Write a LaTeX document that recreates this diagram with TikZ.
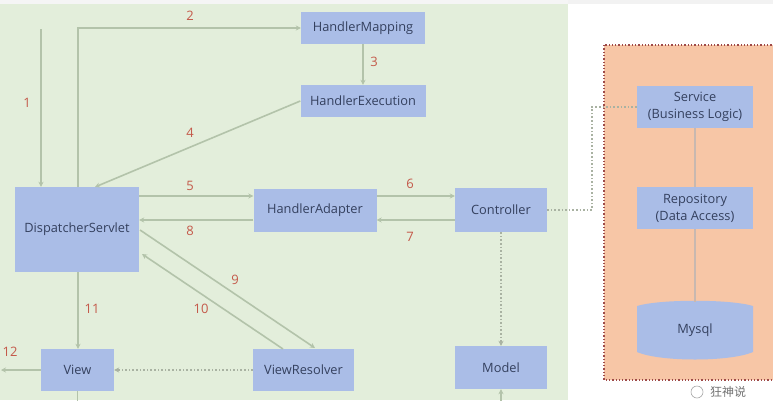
\documentclass[tikz,border=0pt]{standalone}
\usepackage{fontspec}
\setmainfont{Open Sans}
\newfontfamily\cjkfont{Noto Sans CJK SC}
\usetikzlibrary{arrows.meta,shapes.geometric}

\definecolor{bggreen}{HTML}{E3EEDB}
\definecolor{boxblue}{HTML}{AABDE7}
\definecolor{boxtext}{HTML}{34405E}
\definecolor{numred}{HTML}{C4594A}
\definecolor{flowline}{HTML}{B3C3AA}
\definecolor{dotline}{HTML}{A9B2A2}
\definecolor{panelorange}{HTML}{F7C6A6}
\definecolor{paneledge}{HTML}{9E4A48}
\definecolor{linkline}{HTML}{C8B8B0}

\tikzset{
  comp/.style={fill=boxblue, text=boxtext, inner sep=0pt, align=center,
    font=\fontsize{12.8}{17}\selectfont},
  flow/.style={draw=flowline, line width=1.6pt, -{Stealth[length=5pt,width=5pt]}},
  plainflow/.style={draw=flowline, line width=1.6pt},
  dotflow/.style={draw=dotline, line width=1.6pt, dotted},
  num/.style={text=numred, font=\fontsize{13}{15}\selectfont, inner sep=0pt},
}

\begin{document}
\begin{tikzpicture}[x=1pt,y=-1pt]
\useasboundingbox (0,0) rectangle (773,400);
\clip (0,0) rectangle (773,400);

% backgrounds
\fill[white] (0,0) rectangle (773,400);
\fill[bggreen] (0,4) rectangle (568,400);
\fill[black!5] (568,0) rectangle (773,4);
\fill[black!4] (0,0) rectangle (568,4);

% service layer panel
\path[fill=panelorange, draw=paneledge, line width=1.3pt, dotted]
  (604,45) rectangle (790,380);

% components
\node[comp, minimum width=124pt, minimum height=32pt] (hm) at (363,28) {HandlerMapping};
\node[comp, minimum width=125pt, minimum height=32pt] (he) at (363,101) {HandlerExecution};
\node[comp, minimum width=124pt, minimum height=85pt] (ds) at (77,229.5) {DispatcherServlet};
\node[comp, minimum width=123pt, minimum height=43pt] (ha) at (315,210.5) {HandlerAdapter};
\node[comp, minimum width=92pt, minimum height=44pt] (ctl) at (501,210) {Controller};
\node[comp, minimum width=92pt, minimum height=43pt] (model) at (501,367.5) {Model};
\node[comp, minimum width=73pt, minimum height=42pt] (view) at (77.5,370) {View};
\node[comp, minimum width=101pt, minimum height=42pt] (vr) at (303.5,370) {ViewResolver};
\node[comp, minimum width=116pt, minimum height=42pt] (svc) at (695,107) {Service\\(Business Logic)};
\node[comp, minimum width=116pt, minimum height=42pt] (repo) at (695,208) {Repository\\(Data Access)};

% database cylinder
\fill[boxblue] (637,306) .. controls (660,299) and (730,299) .. (753,306)
  -- (753,352) .. controls (730,362) and (660,362) .. (637,352) -- cycle;
\node[text=boxtext, font=\fontsize{12.8}{17}\selectfont, inner sep=0pt,
  minimum width=116pt, minimum height=57pt] (db) at (695,330.5) {Mysql};

% entry points
\coordinate (in1) at (41,29);
\coordinate (out12) at (1,370);
\coordinate (viewlow) at (77.5,402);
\coordinate (modellow) at (501,402);

% request flow
\draw[flow] (in1) -- (in1 |- ds.north);
\draw[flow] (78,187) |- (hm.west);
\draw[flow] (hm.south) -- (he.north);
\draw[flow] (he.west) -- (95,187);
\draw[flow] (ds.east |- 0,196) -- (ha.west |- 0,196);
\draw[flow] (ha.west |- 0,220) -- (ds.east |- 0,220);
\draw[flow] (ha.east |- 0,196) -- (ctl.west |- 0,196);
\draw[flow] (ctl.west |- 0,220) -- (ha.east |- 0,220);
\draw[flow] (140,230) -- (315,348);
\draw[flow] (283,349) -- (142,254);
\draw[flow] (ds.south -| 78,0) -- (view.north -| 78,0);
\draw[flow] (view.west) -- (out12);
\draw[plainflow] (view.south) -- (viewlow);
\draw[flow] (modellow) -- (model.south);

% dotted relations
\draw[dotflow, -{Stealth[length=5pt,width=5pt]}] (vr.west) -- (view.east);
\draw[dotflow, -{Stealth[length=5pt,width=5pt]}] (ctl.south) -- (model.north);
\draw[dotflow] (ctl.east) -- (592,210) -- (592,107) -- (svc.west);

% service layer links
\draw[linkline, line width=1.6pt] (svc.south) -- (repo.north);
\draw[linkline, line width=1.6pt] (repo.south) -- (695,302);

% step numbers
\node[num] (n1) at (27,103) {1};
\node[num] (n2) at (190,16) {2};
\node[num] (n3) at (374,62) {3};
\node[num] (n4) at (190,133) {4};
\node[num] (n5) at (190,186) {5};
\node[num] (n6) at (410,184) {6};
\node[num] (n7) at (410,237) {7};
\node[num] (n8) at (190,231) {8};
\node[num] (n9) at (235,280) {9};
\node[num] (n10) at (201,309) {10};
\node[num] (n11) at (92,309) {11};
\node[num] (n12) at (10,352) {12};

% watermark
\draw[black!35, line width=0.6pt] (697,392) circle (6pt);
\node[text=black!55, font=\cjkfont\fontsize{12}{14}\selectfont, anchor=west, inner sep=0pt]
  (mark) at (710,392) {狂神说};
\end{tikzpicture}
\end{document}
